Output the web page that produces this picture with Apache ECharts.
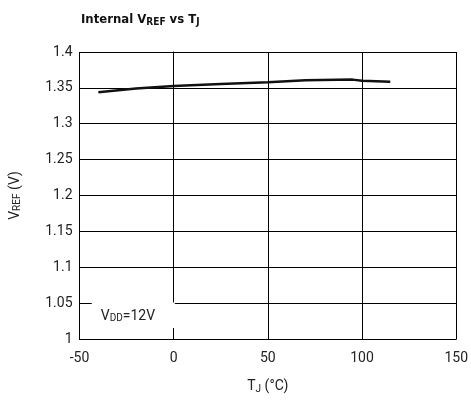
<!DOCTYPE html>
<html><head><meta charset="utf-8">
<script src="https://cdn.jsdelivr.net/npm/echarts@6/dist/echarts.min.js"></script>
<style>html,body{margin:0;padding:0;background:#fff}#c{width:471px;height:401px}</style>
</head><body><div id="c"></div>
<script>
const temps = [-40, -20, 0, 25, 50, 70, 95, 100, 115];
const vref = [1.344, 1.349, 1.3525, 1.3555, 1.358, 1.3605, 1.3615, 1.360, 1.3585];
const xTicks = [-50, 0, 50, 100, 150];
const yTicks = [1, 1.05, 1.1, 1.15, 1.2, 1.25, 1.3, 1.35, 1.4];

const chart = echarts.init(document.getElementById('c'), null, {renderer: 'canvas'});
const font = 'Roboto';
const tfont = '"DejaVu Sans Condensed", "Liberation Sans", sans-serif';
chart.setOption({
  animation: false,
  title: {
    text: '{b|Internal V}{s|REF}{b| vs T}{s|J}',
    left: 76, top: 7,
    textStyle: {
      rich: {
        b: {fontFamily: tfont, fontWeight: 'bold', fontSize: 13, color: '#111'},
        s: {fontFamily: tfont, fontWeight: 'bold', fontSize: 10, color: '#111', padding: [5, 0, 0, 0]}
      }
    }
  },
  grid: {left: 77, right: 10, top: 52, bottom: 62},
  xAxis: {
    type: 'value', min: -50, max: 150, interval: 50,
    name: '{n|T}{s|J}{n| (°C)}', nameLocation: 'middle', nameGap: 40,
    nameTextStyle: {rich: {
      n: {fontFamily: font, fontSize: 14, color: '#222'},
      s: {fontFamily: font, fontSize: 10, color: '#222', padding: [5, 0, 0, 0]}
    }},
    axisLine: {lineStyle: {color: '#000', width: 1}},
    axisTick: {show: false},
    axisLabel: {fontFamily: font, fontSize: 14, color: '#222', margin: 12,
      formatter: v => xTicks.includes(v) ? String(v) : ''},
    splitLine: {show: true, lineStyle: {color: '#000', width: 1}}
  },
  yAxis: {
    type: 'value', min: 1, max: 1.4, interval: 0.05,
    name: '{n|V}{s|REF}{n| (V)}', nameLocation: 'middle', nameGap: 57, nameRotate: 90,
    nameTextStyle: {rich: {
      n: {fontFamily: font, fontSize: 14, color: '#222'},
      s: {fontFamily: font, fontSize: 10, color: '#222', padding: [5, 0, 0, 0]}
    }},
    axisLine: {show: true, lineStyle: {color: '#000', width: 1}},
    axisTick: {show: false},
    axisLabel: {fontFamily: font, fontSize: 14, color: '#222', margin: 7,
      formatter: v => { const t = yTicks.find(y => Math.abs(y - v) < 1e-6); return t === undefined ? '' : String(t); }},
    splitLine: {show: true, lineStyle: {color: '#000', width: 1}}
  },
  series: [{
    type: 'line',
    data: temps.map((t, i) => [t, vref[i]]),
    showSymbol: false,
    lineStyle: {color: '#111', width: 2.5},
    markArea: {
      silent: true,
      itemStyle: {color: '#fff', opacity: 1},
      label: {
        show: true, position: 'insideLeft', offset: [4, 1],
        formatter: '{n|V}{s|DD}{n|=12V}',
        rich: {
          n: {fontFamily: font, fontSize: 14, color: '#222'},
          s: {fontFamily: font, fontSize: 10, color: '#222', padding: [5, 0, 0, 0]}
        }
      },
      data: [[{coord: [-43.5, 1.0508]}, {coord: [0.6, 1.0155]}]]
    }
  }]
});
</script></body></html>
